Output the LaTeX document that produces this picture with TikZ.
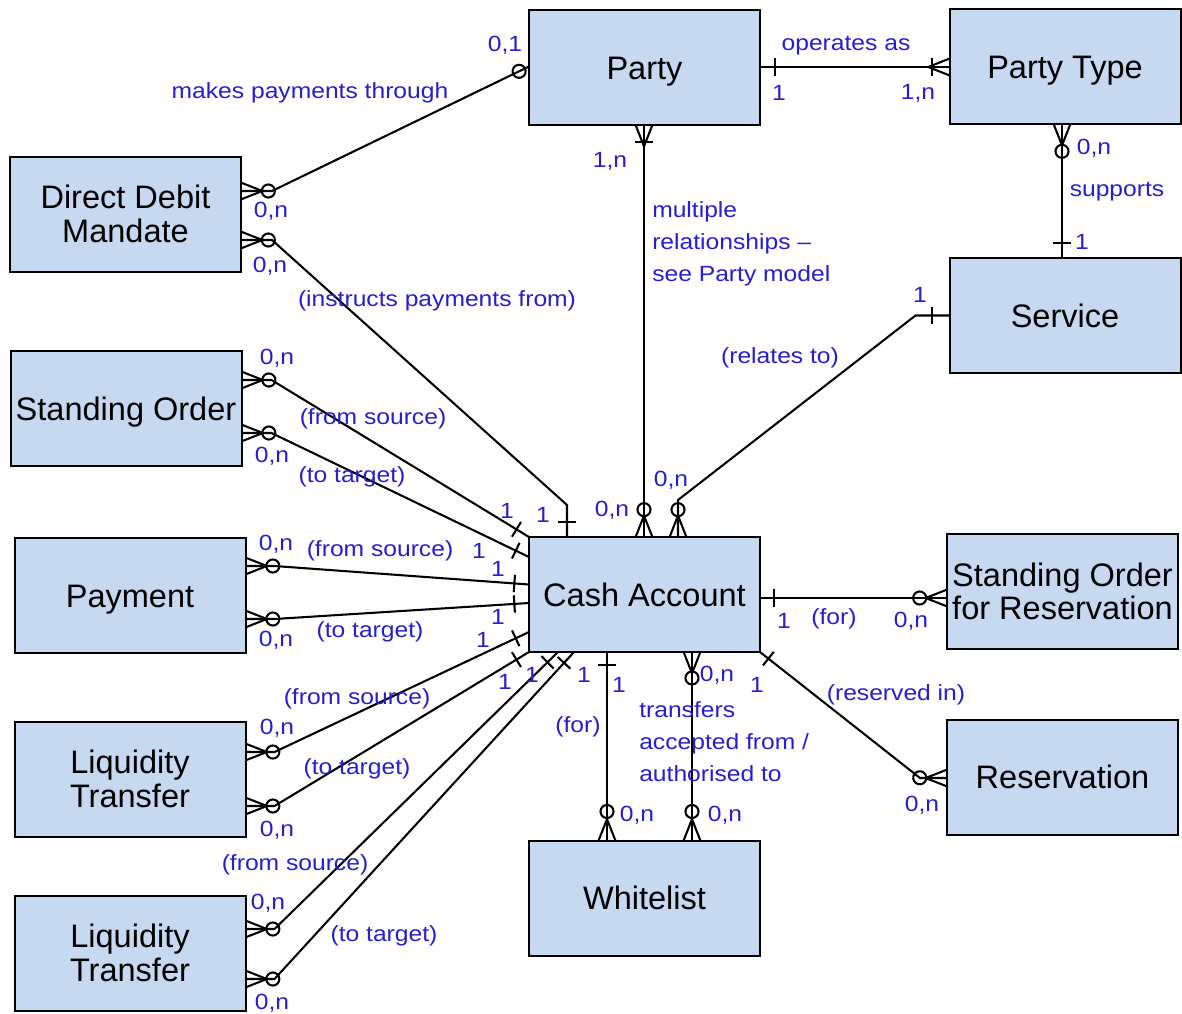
\documentclass[tikz,border=0pt]{standalone}
\usepackage{fontspec}
\setmainfont{Liberation Sans}
\newfontfamily\lblfont{Liberation Sans}[FakeStretch=1.12]
\usetikzlibrary{calc,decorations.markings}
\definecolor{boxc}{RGB}{198,217,240}
\definecolor{lblc}{RGB}{40,30,205}
\tikzset{
  ent/.style={draw=black, fill=boxc, line width=1.5pt, minimum width=173.25pt, minimum height=86.25pt,
    inner sep=0pt, outer sep=0pt, align=center, font=\fontsize{24.4pt}{25pt}\selectfont},
  one/.style={text height=17.5pt, text depth=0pt},
  lbl/.style={text=lblc, inner sep=0pt, font=\lblfont\fontsize{16.5pt}{24pt}\selectfont},
  conn/.style={draw=black, line width=1.55pt},
  mk/.style={postaction={decorate,decoration={markings,#1}}},
  manyS/.style={mk={mark=at position 0 with {\draw[line width=1.55pt] (16pt,0) -- (0,6.3pt) (16pt,0) -- (0,-6.3pt);}}},
  manyE/.style={mk={mark=at position 1 with {\draw[line width=1.55pt] (-16pt,0) -- (0,6.3pt) (-16pt,0) -- (0,-6.3pt);}}},
  zeroS/.style={mk={mark=at position #1 with {\draw[line width=1.55pt] (0,0) circle (4.9pt);}}},
  zeroS/.default=20.5pt,
  zeroE/.style={mk={mark=at position -#1 with {\draw[line width=1.55pt] (0,0) circle (4.9pt);}}},
  zeroE/.default=20.5pt,
  oneS/.style={mk={mark=at position #1 with {\draw[line width=1.55pt] (0,-6.5pt) -- (0,6.5pt);}}},
  oneS/.default=11pt,
  oneE/.style={mk={mark=at position -#1 with {\draw[line width=1.55pt] (0,-6.5pt) -- (0,6.5pt);}}},
  oneE/.default=11pt,
}
\begin{document}
\begin{tikzpicture}[x=0.75pt,y=-0.75pt]
\useasboundingbox (0,0) rectangle (1182,1014);
% entities
\node[ent,one] (party)   at (644.5,67.5) {Party};
\node[ent,one] (ptype)   at (1065,66.5)  {Party Type};
\node[ent] (ddm)     at (125.5,214)  {Direct Debit\\Mandate};
\node[ent,one] (service) at (1065,315.5) {Service};
\node[ent,one] (sol)     at (126,408.5)  {Standing Order};
\node[ent,one] (payment) at (130,595.5)  {Payment};
\node[ent,one] (cash)    at (644.5,594.5) {Cash Account};
\node[ent] (sor)     at (1062.5,591.5) {Standing Order\\for Reservation};
\node[ent] (lt1)     at (130,779)    {Liquidity\\Transfer};
\node[ent,one] (reserv)  at (1062.5,777) {Reservation};
\node[ent,one] (white)   at (644.5,898)  {Whitelist};
\node[ent] (lt2)     at (130,953)    {Liquidity\\Transfer};

% connectors
\draw[conn, oneS, manyE, oneE=13pt] ($(party.east)+(0,-0.5)$) -- ($(party.east -| ptype.west)+(0,-0.5)$);
\draw[conn, manyS, zeroS, zeroE=8.25pt] ($(ddm.east)+(0,-23)$) -- ++(31,0) -- ($(party.west)+(0,-1)$);
\draw[conn, manyS, zeroS, oneE] ($(ddm.east)+(0,26)$) -- ++(31,0) -- ($(cash.north)+(-77.5,-32)$) -- ($(cash.north)+(-77.5,0)$);
\draw[conn, manyS, oneS=13pt, zeroE, manyE] ($(party.south)+(-0.5,0)$) -- ($(cash.north)+(-0.5,0)$);
\draw[conn, oneS=13pt, zeroE, manyE] (service.west) -- ++(-34,0) -- ($(cash.north)+(33.5,-37)$) -- ($(cash.north)+(33.5,0)$);
\draw[conn, manyS, zeroS, oneE] ($(ptype.south)+(-3,0)$) -- ($(service.north)+(-3,0)$);
\draw[conn, manyS, zeroS, oneE] ($(sol.east)+(0,-28.5)$) -- ++(30,0) -- (cash.north west);
\draw[conn, manyS, zeroS, oneE] ($(sol.east)+(0,24.5)$) -- ++(30,0) -- ($(cash.west)+(0,-37.5)$);
\draw[conn, manyS, zeroS, oneE] ($(payment.east)+(0,-29.5)$) -- ++(29,0) -- ($(cash.west)+(0,-10)$);
\draw[conn, manyS, zeroS, oneE] ($(payment.east)+(0,23.5)$) -- ++(29,0) -- ($(cash.west)+(0,8.5)$);
\draw[conn, manyS, zeroS, oneE] ($(lt1.east)+(0,-27)$) -- ++(29,0) -- ($(cash.west)+(0,37.5)$);
\draw[conn, manyS, zeroS, oneE] ($(lt1.east)+(0,27)$) -- ++(29,0) -- (cash.south west);
\draw[conn, manyS, zeroS, oneE] ($(lt2.east)+(0,-24)$) -- ++(29,0) -- ($(cash.south west)+(29,0)$);
\draw[conn, manyS, zeroS, oneE] ($(lt2.east)+(0,26)$) -- ++(29,0) -- ($(cash.south west)+(45,0)$);
\draw[conn, oneS=10pt, zeroE=21.75pt, manyE] ($(cash.south)+(-37.5,0)$) -- ($(white.north)+(-37.5,0)$);
\draw[conn, manyS, zeroS=19.5pt, zeroE=21.75pt, manyE] ($(cash.south)+(47.5,0)$) -- ($(white.north)+(47.5,0)$);
\draw[conn, oneS=10.5pt, zeroE, manyE] ($(cash.east)+(0,3.5)$) -- ($(sor.west)+(0,6.5)$);
\draw[conn, oneS=8pt, zeroE, manyE] (cash.south east) -- ($(reserv.west)+(-27,1)$) -- ($(reserv.west)+(0,1)$);

% labels
\node[lbl] (t1) at (505,45) {0,1};
\node[lbl] (t2) at (310,93) {makes payments through};
\node[lbl] (t3) at (271,211) {0,n};
\node[lbl] (t4) at (270,266) {0,n};
\node[lbl] (t5) at (437,301) {(instructs payments from)};
\node[lbl] (t6) at (846,46) {operates as};
\node[lbl] (t7) at (779,93) {1};
\node[lbl] (t8) at (918,93) {1,n};
\node[lbl] (t9) at (610,161) {1,n};
\node[lbl, align=left, anchor=west] (t10) at (652,244) {multiple\\relationships –\\see Party model};
\node[lbl] (t11) at (1094,148) {0,n};
\node[lbl] (t12) at (1117,192) {supports};
\node[lbl] (t13) at (1082,242) {1};
\node[lbl] (t14) at (920,295) {1};
\node[lbl] (t15) at (780,358) {(relates to)};
\node[lbl] (t16) at (671,480) {0,n};
\node[lbl] (t17) at (612,510) {0,n};
\node[lbl] (t18) at (543,515) {1};
\node[lbl] (t19) at (277,358) {0,n};
\node[lbl] (t20) at (373,419) {(from source)};
\node[lbl] (t21) at (272,456) {0,n};
\node[lbl] (t22) at (352,477) {(to target)};
\node[lbl] (t23) at (507,511) {1};
\node[lbl] (t24) at (479,551) {1};
\node[lbl] (t25) at (276,544) {0,n};
\node[lbl] (t26) at (380,551) {(from source)};
\node[lbl] (t27) at (498,569) {1};
\node[lbl] (t28) at (276,640) {0,n};
\node[lbl] (t29) at (370,632) {(to target)};
\node[lbl] (t30) at (498,617) {1};
\node[lbl] (t31) at (483,640) {1};
\node[lbl] (t32) at (357,699) {(from source)};
\node[lbl] (t33) at (277,728) {0,n};
\node[lbl] (t34) at (357,769) {(to target)};
\node[lbl] (t35) at (277,830) {0,n};
\node[lbl] (t36) at (505,682) {1};
\node[lbl] (t37) at (532,675) {1};
\node[lbl] (t38) at (584,675) {1};
\node[lbl] (t39) at (295,865) {(from source)};
\node[lbl] (t40) at (268,903) {0,n};
\node[lbl] (t41) at (384,936) {(to target)};
\node[lbl] (t42) at (272,1003) {0,n};
\node[lbl] (t43) at (619,685) {1};
\node[lbl] (t44) at (578,727) {(for)};
\node[lbl] (t45) at (637,815) {0,n};
\node[lbl] (t46) at (717,675) {0,n};
\node[lbl, align=left, anchor=west] (t47) at (639,742) {transfers\\accepted from /\\authorised to};
\node[lbl] (t48) at (725,815) {0,n};
\node[lbl] (t49) at (784,621) {1};
\node[lbl] (t50) at (834,619) {(for)};
\node[lbl] (t51) at (911,621) {0,n};
\node[lbl] (t52) at (757,685) {1};
\node[lbl] (t53) at (896,695) {(reserved in)};
\node[lbl] (t54) at (922,805) {0,n};
\end{tikzpicture}
\end{document}
